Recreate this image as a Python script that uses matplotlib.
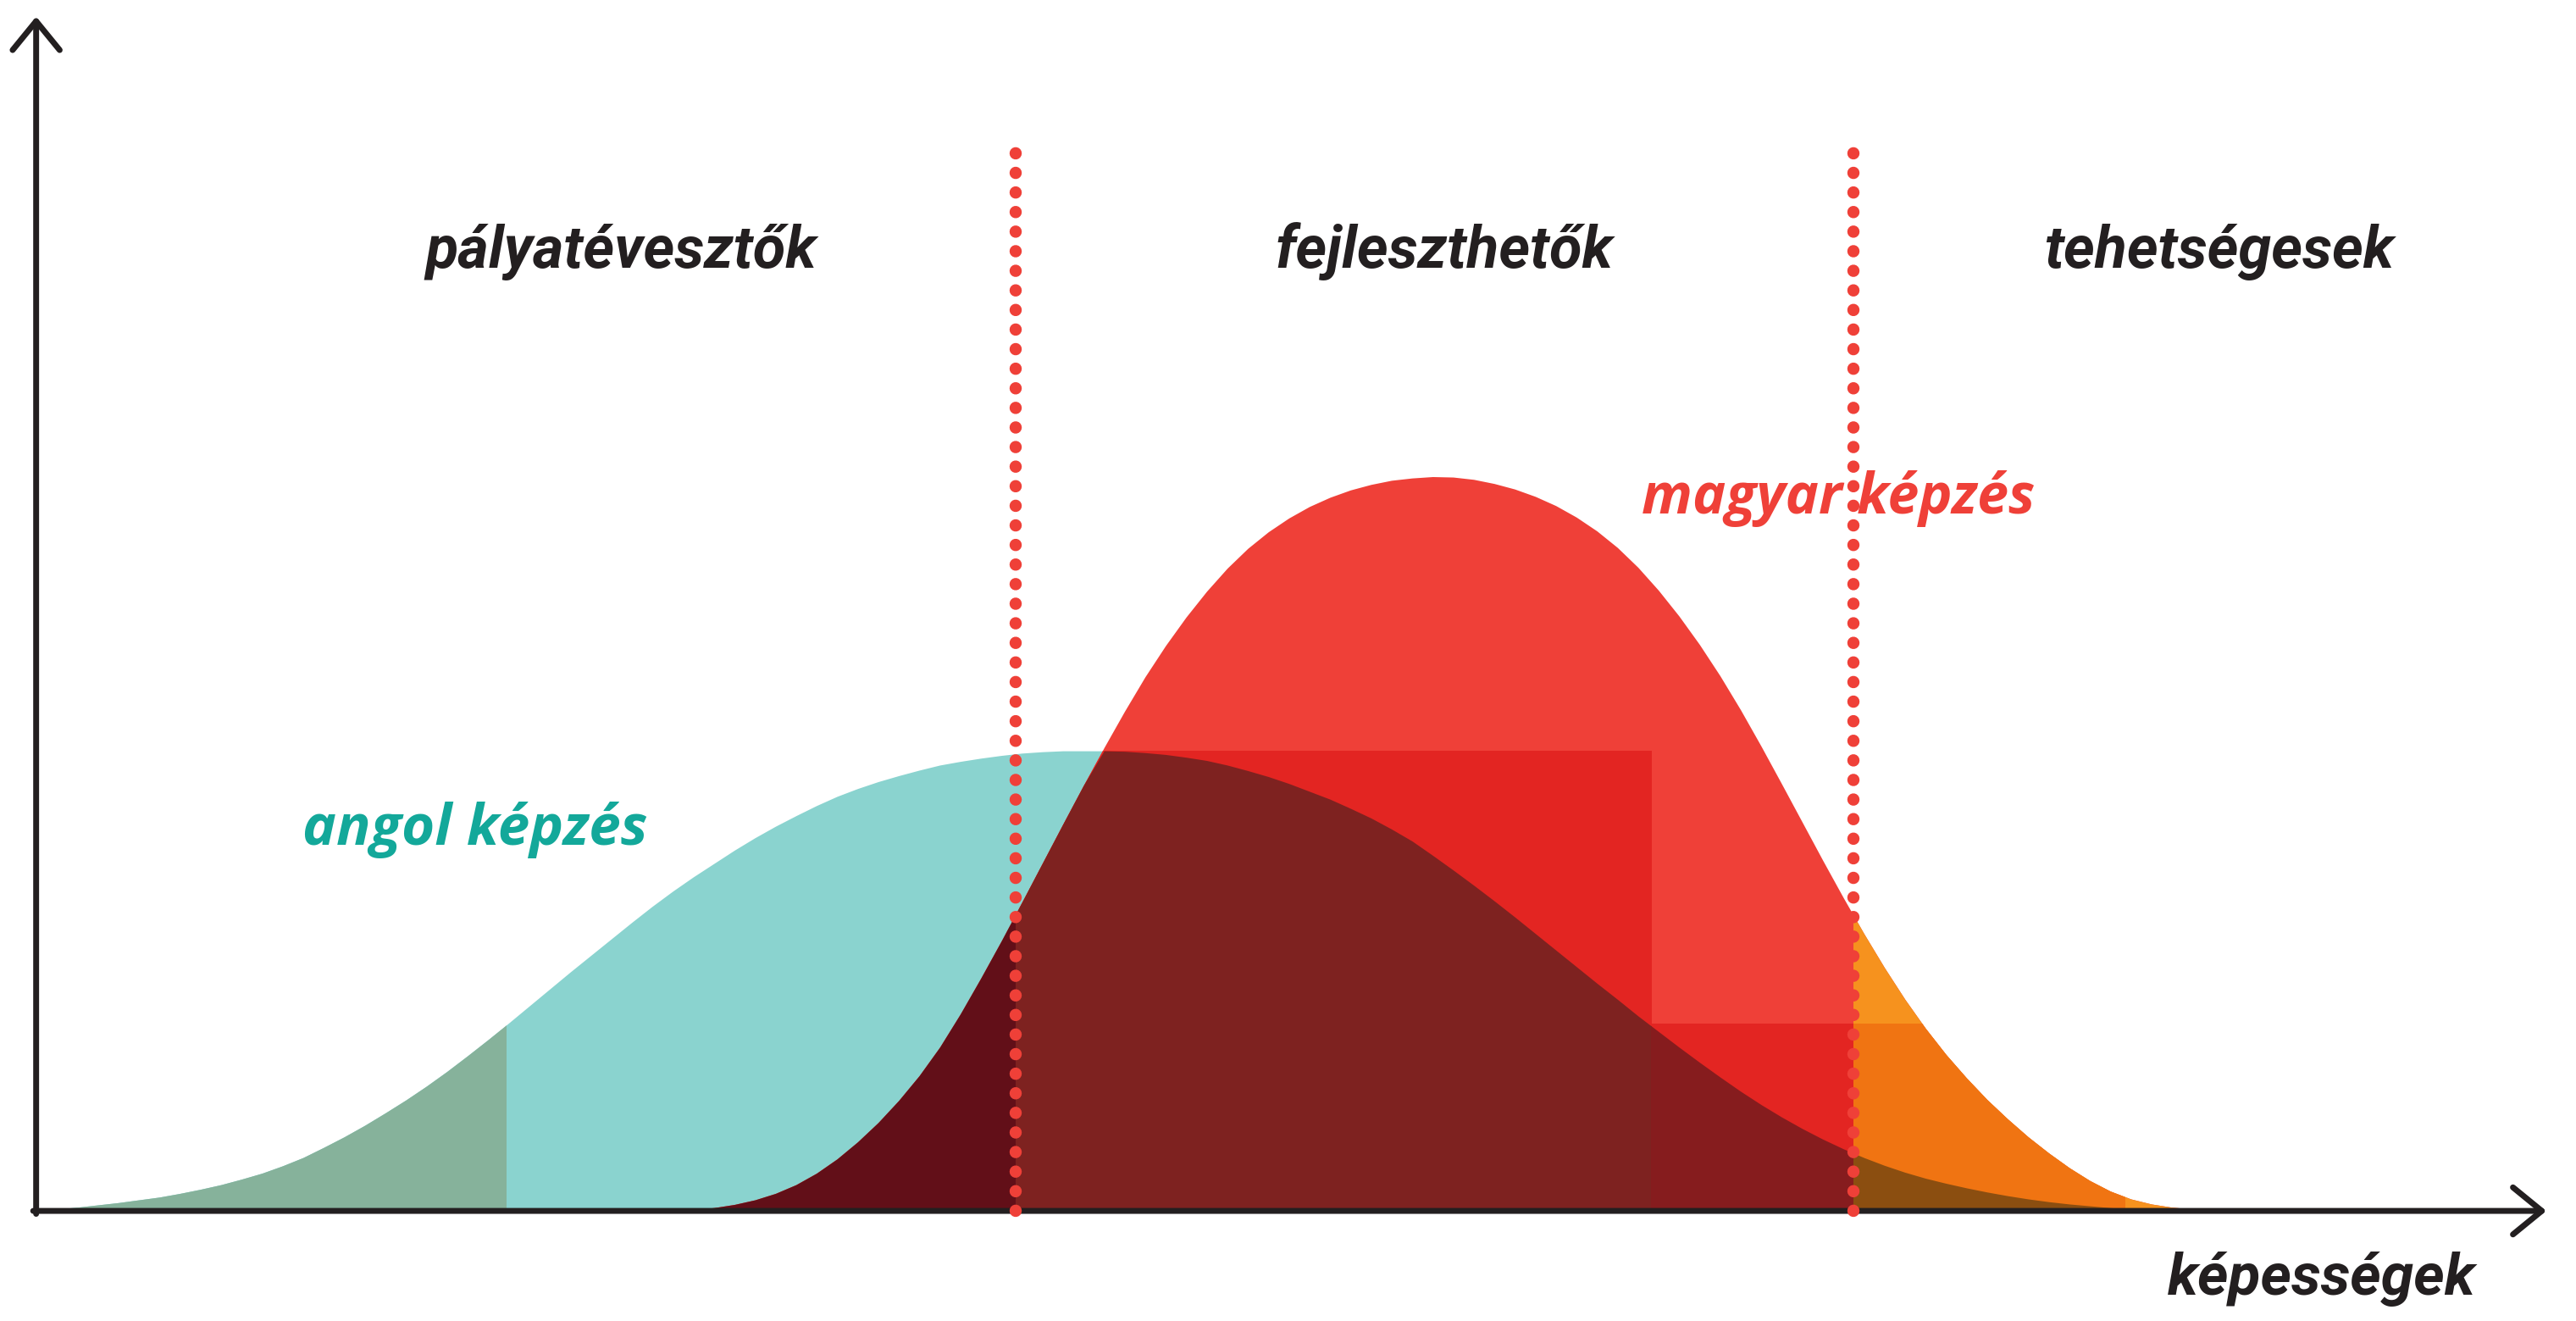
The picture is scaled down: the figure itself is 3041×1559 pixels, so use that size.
import matplotlib
matplotlib.use('Agg')
import matplotlib.pyplot as plt
from matplotlib import font_manager
from matplotlib.patches import Rectangle
import numpy as np

# ability scale (x) and the two distributions (y, angol peak = 100)
ability = [0, 1.25, 2.5, 3.75, 5, 6.25, 7.5, 8.75, 10, 11.25, 12.5, 13.75, 15, 16.25,
           17.5, 18.75, 20, 21.25, 22.5, 23.75, 25, 26.25, 27.5, 28.75, 30, 31.25, 32.5,
           33.75, 35, 36.25, 37.5, 38.75, 40, 41.25, 42.5, 43.75, 45, 46.25, 47.5, 48.75,
           50, 51.25, 52.5, 53.75, 55, 56.25, 57.5, 58.75, 60, 61.25, 62.5, 63.75, 65,
           66.25, 67.5, 68.75, 70, 71.25, 72.5, 73.75, 75, 76.25, 77.5, 78.75, 80, 81.25,
           82.5, 83.75, 85, 86.25, 87.5, 88.75, 90, 91.25, 92.5, 93.75, 95, 96.25, 97.5,
           98.75, 100, 101.25, 102.5, 103.75, 105, 106.25, 107.5, 108.75, 110, 111.25,
           112.5, 113.75, 115, 116.25, 117.5, 118.75, 120, 121.25, 122.5, 123.75, 125,
           126.25, 127.5, 128.75, 130, 131.25, 132.5]
angol = [0, 0.4, 0.8, 1.3, 1.8, 2.4, 3.0, 3.8, 4.7, 5.7, 6.9, 8.2, 9.8, 11.6, 13.8,
         16.1, 18.6, 21.3, 24.1, 27.1, 30.3, 33.7, 37.2, 40.8, 44.5, 48.2, 51.9, 55.5,
         59.1, 62.7, 66.2, 69.5, 72.6, 75.5, 78.4, 81.1, 83.6, 85.9, 88.1, 90.1, 91.8,
         93.3, 94.6, 95.8, 96.9, 97.7, 98.4, 99.0, 99.5, 99.8, 100.0, 100.0, 100.0, 99.9,
         99.6, 99.2, 98.6, 97.9, 96.9, 95.7, 94.4, 92.9, 91.2, 89.5, 87.5, 85.4, 83.0,
         80.4, 77.3, 74.1, 70.8, 67.4, 63.9, 60.3, 56.7, 53.1, 49.5, 46.0, 42.4, 39.0,
         35.6, 32.3, 29.1, 26.0, 23.1, 20.4, 17.9, 15.6, 13.5, 11.6, 9.9, 8.4, 7.1, 6.0,
         5.0, 4.1, 3.3, 2.6, 2.0, 1.5, 1.1, 0.7, 0.4, 0.2, 0.1, 0, 0]
magyar = [0, 0, 0, 0, 0, 0, 0, 0, 0, 0, 0, 0, 0, 0, 0, 0, 0, 0, 0, 0, 0, 0, 0, 0, 0,
          0, 0, 0, 0, 0, 0, 0, 0.3, 0.7, 1.4, 2.4, 3.8, 5.7, 8.2, 11.3, 15.0, 19.2, 24.0,
          29.4, 35.6, 42.8, 50.6, 58.7, 67.1, 75.6, 84.1, 92.5, 100.7, 108.6, 116.1,
          122.9, 129.1, 134.7, 139.7, 144.0, 147.6, 150.6, 153.1, 155.1, 156.7, 157.9,
          158.8, 159.3, 159.6, 159.5, 159.0, 158.1, 156.9, 155.3, 153.3, 150.8, 147.8,
          144.2, 139.9, 134.9, 129.3, 123.1, 116.3, 108.9, 101.0, 92.8, 84.5, 76.2, 68.1,
          60.3, 52.9, 46.0, 39.7, 34.0, 28.9, 24.2, 20.0, 16.1, 12.6, 9.4, 6.6, 4.3, 2.6,
          1.5, 0.8, 0.4, 0.1]

# group borders (dotted lines) and the stepped levels
borders = [59.6, 110.6]
step_edges = [28.6, 98.3, 127.1]
step_low, step_high = 40.7, 100.0

categories = ['pályatévesztők', 'fejleszthetők', 'tehetségesek']
category_x = [35.6, 85.7, 132.9]


def pick_font(names):
    for n in names:
        try:
            font_manager.findfont(font_manager.FontProperties(family=n), fallback_to_default=False)
            return n
        except Exception:
            pass
    return 'DejaVu Sans'


cond_font = pick_font(['Liberation Sans Narrow', 'Roboto', 'DejaVu Sans'])
label_font = pick_font(['Open Sans', 'Lato', 'DejaVu Sans'])

fig = plt.figure(figsize=(30.41, 15.59), dpi=100)
ax = fig.add_axes([0, 0, 1, 1])
ax.set_xlim(-2.2, 154.6)
ax.set_ylim(-23.93, 263.2)
ax.axis('off')

x = np.array(ability)
a = np.array(angol)
m = np.array(magyar)
both = np.minimum(a, m)


def fill(y, color, x0=None, x1=None, ytop=400):
    poly = ax.fill_between(x, 0, y, color=color, lw=0)
    if x0 is not None:
        clip = Rectangle((x0, -10), x1 - x0, ytop + 10, transform=ax.transData)
        poly.set_clip_path(clip)
    return poly


# angol képzés
fill(a, '#8AD3CF')
fill(a, '#86B29B', -10, step_edges[0])
# magyar képzés
fill(m, '#EF4038')
fill(m, '#E32522', borders[0], step_edges[1], step_high)
fill(m, '#E32522', step_edges[1], borders[1], step_low)
fill(m, '#F6921E', borders[1], 200)
fill(m, '#F07412', borders[1], step_edges[2], step_low)
# overlap of the two
fill(both, '#620F18', -10, borders[0])
fill(both, '#7E2220', borders[0], step_edges[1])
fill(both, '#861C1E', step_edges[1], borders[1])
fill(both, '#8B4E10', borders[1], 200)

# axes with open arrow heads
axis_kw = dict(arrowstyle='->,head_length=2.45,head_width=2.0', lw=5, color='#231F20',
               shrinkA=0, shrinkB=0)
ax.annotate('', xy=(152.8, 0), xytext=(-0.18, 0), arrowprops=axis_kw)
ax.annotate('', xy=(0, 259.6), xytext=(0, -0.64), arrowprops=axis_kw)

# dotted borders
for b in borders:
    ax.plot([b, b], [0, 231.8], color='#EF4038', lw=10.4,
            linestyle=(0, (0.01, 1.59)), dash_capstyle='round', zorder=5)

for name, cx in zip(categories, category_x):
    ax.text(cx, 205, name, ha='center', va='baseline', fontsize=50.5, family=cond_font,
            fontweight='bold', fontstyle='italic', color='#231F20')

ax.text(139.1, -18.2, 'képességek', ha='center', va='baseline', fontsize=50,
        family=cond_font, fontweight='bold', fontstyle='italic', color='#231F20')
ax.text(26.7, 79.6, 'angol képzés', ha='center', va='baseline', fontsize=48.4,
        family=label_font, fontweight='bold', fontstyle='italic', color='#13A89A')
ax.text(109.7, 151.6, 'magyar képzés', ha='center', va='baseline', fontsize=47.7,
        family=label_font, fontweight='bold', fontstyle='italic', color='#EF4038',
        zorder=4)

fig.savefig('out.png', dpi=100)
